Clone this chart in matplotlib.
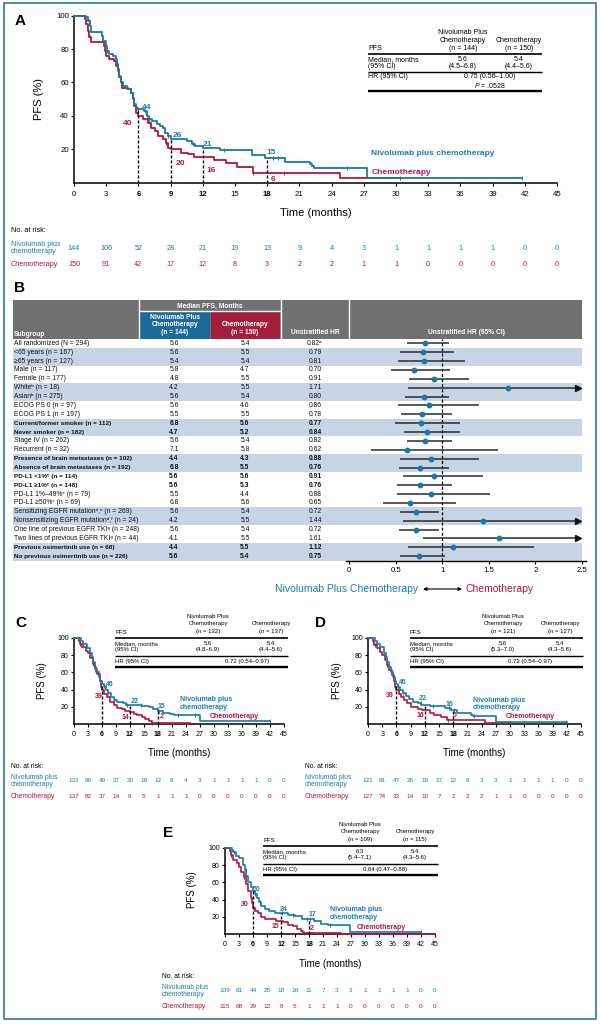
import matplotlib
matplotlib.use('Agg')
import matplotlib.pyplot as plt
import matplotlib.transforms as mtransforms
from matplotlib.patches import Rectangle
from matplotlib import font_manager
import numpy as np

plt.rcParams['font.family'] = ['Liberation Sans', 'DejaVu Sans']
plt.rcParams['mathtext.fontset'] = 'custom'
plt.rcParams['mathtext.rm'] = 'Liberation Sans'
plt.rcParams['mathtext.it'] = 'Liberation Sans:italic'
plt.rcParams['mathtext.bf'] = 'Liberation Sans:bold'

_names = {f.name for f in font_manager.fontManager.ttflist}
NARROW = ['Liberation Sans Narrow', 'Liberation Sans', 'DejaVu Sans'] if 'Liberation Sans Narrow' in _names \
    else ['Liberation Sans', 'DejaVu Sans']
BOLD_ROW_FS = 4.9 if 'Liberation Sans Narrow' in _names else 4.6

# ====================== DATA ======================
months = list(range(0, 46, 3))

# ---- Panel A (all randomized) ----
A_niv_t = [0, 1.1, 1.3, 1.45, 1.6, 2.6, 2.7, 3.0, 3.1, 3.3, 3.6, 3.9, 4.0, 4.1, 4.2, 4.4, 4.6, 4.9, 5.3, 5.5,
           5.6, 5.8, 6.0, 6.5, 6.8, 7.0, 7.3, 7.7, 8.0, 8.3, 8.5, 8.8, 9.0, 10.5, 11.0, 11.3, 12.0, 13.6, 16.6, 17.8,
           19.7, 22.0, 22.2, 22.4, 27.3, 41.7]
A_niv_s = [100, 99, 97, 94, 90, 88, 85, 82, 79, 77, 76, 74, 71, 67, 63, 60, 58, 56, 54, 51,
           47, 45, 44, 43, 40, 38, 37, 35, 34, 33, 30, 28, 26, 25, 23, 22, 21, 19.6, 16.4, 15,
           12.6, 11, 10, 8.6, 2.6, 2.6]
A_ch_t = [0, 1.0, 1.1, 1.3, 1.4, 1.6, 2.8, 2.9, 3.0, 3.3, 3.7, 3.9, 4.1, 4.2, 4.4, 4.5, 5.0, 5.3, 5.5, 5.6,
          5.8, 6.0, 6.4, 6.9, 7.2, 7.5, 7.8, 8.3, 8.6, 8.8, 9.0, 10.0, 10.6, 11.2, 13.0, 14.2, 15.2, 16.7, 24.8, 30.4]
A_ch_s = [100, 98, 95, 91, 87, 84, 82, 79, 76, 74, 73, 70, 68, 63, 60, 57, 56, 54, 50, 46,
          42, 40, 38, 36, 33, 31, 28, 26, 24, 21, 20, 18, 17, 15.6, 13.6, 11.6, 9.6, 5.6, 2.6, 2.6]
A_niv_cens = [1.4, 3.1, 4.0, 4.3, 5.5, 5.9, 6.6, 7.0, 8.8, 11.1, 14.0, 18.5, 19.0, 22.1, 25.4, 41.7]
A_ch_cens = [1.3, 1.5, 4.0, 4.3, 5.5, 6.8, 7.1, 8.6, 16.7, 19.6, 30.4]
A_land_t = [6, 9, 12, 18]
A_niv_land = [44, 26, 21, 15]
A_ch_land = [40, 20, 16, 6]
A_risk_niv = [144, 106, 52, 28, 21, 19, 13, 9, 4, 3, 1, 1, 1, 1, 0, 0]
A_risk_ch = [150, 91, 42, 17, 12, 8, 3, 2, 2, 1, 1, 0, 0, 0, 0, 0]
A_n = [144, 150]
A_median = ['5.6', '5.4']
A_ci = ['(4.5–6.8)', '(4.4–5.6)']
A_hr = '0.75 (0.56–1.00)'
A_p = '.0528'

# ---- Panel C ----
C_niv_t = [0, 1.6, 2.0, 2.7, 3.4, 3.8, 4.1, 4.4, 4.8, 5.3, 5.6, 6.0, 6.4, 6.8, 7.3, 8.0, 8.5, 9.3, 10.5, 11.2,
           14.5, 16.0, 17.0, 18.0, 19.0, 20.5, 21.5, 27.0, 42.0]
C_niv_s = [100, 97, 93, 88, 82, 78, 72, 66, 60, 55, 50, 46, 44, 40, 36, 31, 28, 26, 24, 22,
           21, 20, 17, 15, 13, 12, 11, 3, 3]
C_ch_t = [0, 1.0, 1.3, 1.8, 2.5, 3.0, 3.5, 4.0, 4.5, 5.0, 5.5, 5.8, 6.0, 6.5, 7.0, 7.8, 8.5, 9.3, 10.2, 11.0,
          12.0, 12.8, 13.5, 14.5, 15.3, 16.0, 16.8, 24.8]
C_ch_s = [100, 97, 93, 89, 85, 82, 77, 70, 64, 58, 50, 43, 39, 35, 31, 26, 22, 19, 17, 15,
          14, 12, 10, 8, 6, 4, 1.5, 1.5]
C_niv_cens = [2.0, 4.5, 6.4, 7.3, 8.5, 11.3, 14.3, 17.8, 18.3, 22.3, 26.0, 42.0]
C_ch_cens = [1.3, 4.0, 5.8, 16.8]
C_land_t = [6, 12, 18]
C_niv_land = [46, 22, 15]
C_ch_land = [39, 14, 2]
C_risk_niv = [132, 96, 49, 27, 20, 18, 12, 8, 4, 3, 1, 1, 1, 1, 0, 0]
C_risk_ch = [137, 82, 37, 14, 9, 5, 1, 1, 1, 0, 0, 0, 0, 0, 0, 0]
C_n = [132, 137]
C_median = ['5.6', '5.4']
C_ci = ['(4.8–6.9)', '(4.4–5.6)']
C_hr = '0.72 (0.54–0.97)'

# ---- Panel D ----
D_niv_t = [0, 1.5, 2.0, 2.6, 3.3, 3.7, 4.1, 4.5, 4.9, 5.3, 5.6, 6.0, 6.4, 6.8, 7.3, 8.0, 8.6, 9.5, 10.6, 11.3,
           13.0, 16.3, 17.5, 18.8, 21.8, 22.2, 27.0, 42.0]
D_niv_s = [100, 97, 93, 89, 83, 78, 72, 66, 60, 55, 50, 46, 43, 40, 36, 32, 29, 26, 24, 22,
           21, 19, 16, 13, 11, 9, 2.5, 2.5]
D_ch_t = [0, 1.0, 1.3, 1.8, 2.5, 3.0, 3.5, 4.0, 4.5, 5.0, 5.5, 5.8, 6.0, 6.5, 7.0, 7.5, 8.2, 9.0, 10.5, 11.5,
          13.0, 14.0, 15.5, 16.6, 24.7, 30.3]
D_ch_s = [100, 96, 92, 88, 84, 80, 75, 69, 63, 57, 50, 43, 39, 35, 31, 28, 24, 20, 18, 16,
          13, 11, 8, 5, 1.5, 1.5]
D_niv_cens = [2.0, 4.5, 6.4, 7.3, 11.2, 13.8, 17.2, 18.2, 22.3, 41.8]
D_ch_cens = [1.4, 4.0, 6.3, 17.0]
D_land_t = [6, 12, 18]
D_niv_land = [46, 22, 16]
D_ch_land = [39, 16, 5]
D_risk_niv = [121, 91, 47, 26, 19, 17, 12, 8, 3, 3, 1, 1, 1, 1, 0, 0]
D_risk_ch = [127, 74, 33, 14, 10, 7, 2, 2, 2, 1, 1, 0, 0, 0, 0, 0]
D_n = [121, 127]
D_median = ['5.6', '5.4']
D_ci = ['(5.3–7.0)', '(4.3–5.6)']
D_hr = '0.72 (0.54–0.97)'

# ---- Panel E ----
E_niv_t = [0, 1.5, 1.7, 2.3, 3.0, 3.8, 4.2, 4.6, 5.0, 5.5, 6.0, 6.4, 6.8, 7.3, 7.8, 8.5, 9.5, 10.8, 12.0, 13.5,
           15.0, 16.5, 19.0, 20.5, 22.0, 26.8, 42.0]
E_niv_s = [100, 98, 95, 91, 88, 80, 75, 68, 60, 55, 50, 47, 42, 37, 32, 29, 27, 25, 24, 22,
           21, 17, 15, 12, 11, 2.5, 2.5]
E_ch_t = [0, 1.0, 1.3, 1.8, 2.5, 3.0, 3.5, 4.0, 4.5, 5.0, 5.5, 5.8, 6.0, 6.5, 7.0, 7.8, 8.5, 9.5, 11.0, 12.5,
          13.5, 14.5, 15.5, 16.2, 16.8, 24.8, 45.0]
E_ch_s = [100, 96, 92, 86, 83, 78, 72, 66, 58, 50, 42, 36, 30, 27, 24, 20, 18, 17, 15, 14,
          11, 9, 6, 4, 1.5, 0.5, 0.5]
E_niv_cens = [1.9, 4.5, 6.5, 7.6, 12.2, 14.5, 17.5, 18.3, 22.4, 42.0]
E_ch_cens = [1.3, 4.0, 6.2, 17.0]
E_land_t = [6, 12, 18]
E_niv_land = [50, 24, 17]
E_ch_land = [30, 15, 2]
E_risk_niv = [109, 81, 44, 25, 18, 16, 11, 7, 3, 3, 1, 1, 1, 1, 0, 0]
E_risk_ch = [115, 68, 29, 12, 8, 5, 1, 1, 1, 0, 0, 0, 0, 0, 0, 0]
E_n = [109, 115]
E_median = ['6.3', '5.4']
E_ci = ['(5.4–7.1)', '(4.3–5.6)']
E_hr = '0.64 (0.47–0.88)'

# ---- Panel B (subgroups) ----
sub_labels = [
    "All randomized (N = 294)", "<65 years (n = 167)", "≥65 years (n = 127)", "Male (n = 117)",
    "Female (n = 177)", "Whiteᵇ (n = 18)", "Asianᵇ (n = 275)", "ECOG PS 0 (n = 97)", "ECOG PS 1 (n = 197)",
    "Current/former smoker (n = 112)", "Never smoker (n = 182)", "Stage IV (n = 262)", "Recurrent (n = 32)",
    "Presence of brain metastases (n = 102)", "Absence of brain metastases (n = 192)",
    "PD-L1 <1%ᶜ (n = 114)", "PD-L1 ≥1%ᶜ (n = 148)", "PD-L1 1%–49%ᶜ (n = 79)", "PD-L1 ≥50%ᶜ (n = 69)",
    "Sensitizing EGFR mutationᵈ,ᵉ (n = 269)", "Nonsensitizing EGFR mutationᵈ,ᶠ (n = 24)",
    "One line of previous EGFR TKIᵍ (n = 248)", "Two lines of previous EGFR TKIᵍ (n = 44)",
    "Previous osimertinib use (n = 68)", "No previous osimertinib use (n = 226)"]
sub_bold = [0, 0, 0, 0, 0, 0, 0, 0, 0, 1, 1, 0, 0, 1, 1, 1, 1, 0, 0, 0, 0, 0, 0, 1, 1]
sub_shade = [0, 1, 1, 0, 0, 1, 1, 0, 0, 1, 1, 0, 0, 1, 1, 0, 0, 0, 0, 1, 1, 0, 0, 1, 1]
med_niv = [5.6, 5.6, 5.4, 5.8, 4.8, 4.2, 5.6, 5.6, 5.5, 6.8, 4.7, 5.6, 7.1, 4.4, 6.8, 5.6, 5.6, 5.5, 6.8,
           5.6, 4.2, 5.6, 4.1, 4.4, 5.6]
med_ch = [5.4, 5.5, 5.4, 4.7, 5.5, 5.5, 5.4, 4.6, 5.5, 5.6, 5.2, 5.4, 5.8, 4.3, 5.5, 5.6, 5.3, 4.4, 5.6,
          5.4, 5.5, 5.4, 5.5, 5.5, 5.4]
hr_est = [0.82, 0.79, 0.81, 0.70, 0.91, 1.71, 0.80, 0.86, 0.78, 0.77, 0.84, 0.82, 0.62, 0.88, 0.76, 0.91,
          0.76, 0.88, 0.65, 0.72, 1.44, 0.72, 1.61, 1.12, 0.75]
hr_lo = [0.62, 0.55, 0.53, 0.45, 0.64, 0.63, 0.60, 0.53, 0.56, 0.49, 0.59, 0.62, 0.24, 0.55, 0.54, 0.58,
         0.52, 0.52, 0.36, 0.55, 0.58, 0.54, 0.79, 0.63, 0.55]
hr_hi = [1.07, 1.13, 1.25, 1.08, 1.29, None, 1.07, 1.39, 1.10, 1.19, 1.19, 1.10, 1.60, 1.39, 1.07, 1.44,
         1.11, 1.51, 1.15, 0.97, None, 0.97, None, 1.98, 1.03]
forest_ticks = [0, 0.5, 1, 1.5, 2, 2.5]
forest_ticklabels = ['0', '0.5', '1', '1.5', '2', '2.5']

# ====================== STYLE ======================
BLUE = '#1878a9'
RED = '#b1183f'
NIV_TXT = '#1a7db0'
HDR_GRAY = '#707070'
HDR_BLUE = '#1c6a98'
HDR_RED = '#a41f3b'
SHADE = '#c6d4e6'
FRAME = '#4a8cbf'

W, H = 600, 1025
fig = plt.figure(figsize=(W / 100, H / 100), dpi=100)
cv = fig.add_axes([0, 0, 1, 1])
cv.set_xlim(0, W)
cv.set_ylim(H, 0)
cv.axis('off')
cv.set_zorder(0)


def px_axes(x0, x1, yt, yb):
    a = fig.add_axes([x0 / W, 1 - yb / H, (x1 - x0) / W, (yb - yt) / H])
    a.set_zorder(2)
    a.patch.set_visible(False)
    return a


def step_at(t, s, x):
    i = np.searchsorted(np.asarray(t), x, side='right') - 1
    return float(np.asarray(s)[i])


def km(box, niv, ch, niv_c, ch_c, land, niv_land, ch_land, niv_pos, ch_pos,
       name_pos, chemo_pos, two_lines, fs_tick, fs_num, fs_name, lw, xpad):
    x0, x1, yt, yb = box
    ax = px_axes(x0, x1, yt, yb)
    ax.set_xlim(0, 45)
    ax.set_ylim(0, 100)
    for sp in ['top', 'right']:
        ax.spines[sp].set_visible(False)
    for sp in ['left', 'bottom']:
        ax.spines[sp].set_linewidth(1.1)
    ax.step(ch[0], ch[1], where='post', color=RED, lw=lw, clip_on=False, zorder=3)
    ax.step(niv[0], niv[1], where='post', color=BLUE, lw=lw, clip_on=False, zorder=4)
    ax.plot(ch_c, [step_at(ch[0], ch[1], c) for c in ch_c], ls='none', marker='|',
            ms=3.2, mew=0.7, color=RED, zorder=3, clip_on=False)
    ax.plot(niv_c, [step_at(niv[0], niv[1], c) for c in niv_c], ls='none', marker='|',
            ms=3.2, mew=0.7, color=BLUE, zorder=4, clip_on=False)
    for t in land:
        top = max(step_at(niv[0], niv[1], t), step_at(ch[0], ch[1], t))
        ax.plot([t, t], [0, top], color='k', lw=1.0, ls=(0, (2.2, 1.4)), zorder=5)
    for (x, y), v in zip(niv_pos, niv_land):
        ax.text(x, y, str(v), color=NIV_TXT, fontsize=fs_num, fontweight='bold', ha='center', va='center')
    for (x, y), v in zip(ch_pos, ch_land):
        ax.text(x, y, str(v), color=RED, fontsize=fs_num, fontweight='bold', ha='center', va='center')
    name = 'Nivolumab plus\nchemotherapy' if two_lines else 'Nivolumab plus chemotherapy'
    ax.text(name_pos[0], name_pos[1], name, color=NIV_TXT, fontsize=fs_name, fontweight='bold',
            ha='left', va='center', linespacing=1.1)
    ax.text(chemo_pos[0], chemo_pos[1], 'Chemotherapy', color=RED, fontsize=fs_name, fontweight='bold',
            ha='left', va='center')
    ax.set_xticks(months)
    ax.set_xticklabels([str(m) for m in months])
    ax.set_yticks([20, 40, 60, 80, 100])
    ax.tick_params(labelsize=fs_tick, length=2.5, width=0.8)
    ax.tick_params(axis='x', pad=xpad)
    ax.tick_params(axis='y', pad=1.2)
    for lab, m in zip(ax.get_xticklabels(), months):
        if m in land:
            lab.set_fontweight('bold')
    return ax


def risk(ax, x_lab, y_title, y_niv, y_ch, rn, rc, fs, fs_lab):
    tr = mtransforms.blended_transform_factory(ax.transData, cv.transData)
    cv.text(x_lab, y_title, 'No. at risk:', fontsize=fs_lab, ha='left', va='center')
    cv.text(x_lab, y_niv, 'Nivolumab plus\nchemotherapy', fontsize=fs_lab, color=NIV_TXT,
            ha='left', va='center', linespacing=1.0)
    cv.text(x_lab, y_ch, 'Chemotherapy', fontsize=fs_lab, color=RED, ha='left', va='center')
    for m, a, b in zip(months, rn, rc):
        cv.text(m, y_niv, str(a), transform=tr, fontsize=fs, color=NIV_TXT, ha='center', va='center')
        cv.text(m, y_ch, str(b), transform=tr, fontsize=fs, color=RED, ha='center', va='center')


def km_table(xl, xr, c1, c2, chr_, y0, n, med, ci, hr_txt, p_txt, fs, offs):
    h1, h2, h3, m1, m2, mid, hry, py, bot = offs
    kw = dict(fontsize=fs, va='center')
    cv.text(xl, y0 + h3, 'PFS', ha='left', **kw)
    for yy, s in zip((h1, h2, h3), ('Nivolumab Plus', 'Chemotherapy', f'(n = {n[0]})')):
        cv.text(c1, y0 + yy, s, ha='center', **kw)
    for yy, s in zip((h2, h3), ('Chemotherapy', f'(n = {n[1]})')):
        cv.text(c2, y0 + yy, s, ha='center', **kw)
    cv.plot([xl, xr], [y0, y0], color='k', lw=1.2, solid_capstyle='butt')
    cv.text(xl, y0 + m1, 'Median, months', ha='left', **kw)
    cv.text(xl, y0 + m2, '(95% CI)', ha='left', **kw)
    for cx, a, b in ((c1, med[0], ci[0]), (c2, med[1], ci[1])):
        cv.text(cx, y0 + m1, a, ha='center', **kw)
        cv.text(cx, y0 + m2, b, ha='center', **kw)
    cv.plot([xl, xr], [y0 + mid] * 2, color='k', lw=1.0, solid_capstyle='butt')
    cv.text(xl, y0 + hry, 'HR (95% CI)', ha='left', **kw)
    cv.text(chr_, y0 + hry, hr_txt, ha='center', **kw)
    if p_txt:
        cv.text(chr_, y0 + py, '$P$ = ' + p_txt, ha='center', **kw)
    cv.plot([xl, xr], [y0 + bot] * 2, color='k', lw=1.7, solid_capstyle='butt')


# ---------------- frame ----------------
cv.add_patch(Rectangle((4, 3), 592, 1016, fill=False, edgecolor=FRAME, lw=1.4, zorder=10))

# ---------------- panel A ----------------
axA = km((74, 557, 15.7, 182.7), (A_niv_t, A_niv_s), (A_ch_t, A_ch_s), A_niv_cens, A_ch_cens,
         A_land_t, A_niv_land, A_ch_land,
         [(6.8, 45), (9.6, 28.5), (12.4, 23), (18.4, 18)],
         [(5.0, 35.5), (9.9, 11.2), (12.8, 7.6), (18.5, 2)],
         (27.7, 17.2), (27.7, 6.4), False, 5.6, 6.0, 6.0, 1.3, 3.6)
cv.text(15, 21, 'A', fontsize=11, fontweight='bold', ha='left', va='center')
cv.text(39, 99, 'PFS (%)', fontsize=8, rotation=90, ha='center', va='center')
cv.text(315.5, 213, 'Time (months)', fontsize=8, ha='center', va='center')
risk(axA, 11, 230, 248, 265, A_risk_niv, A_risk_ch, 5.2, 5.2)
km_table(368, 542, 463, 519, 490, 54, A_n, A_median, A_ci, A_hr, A_p, 5.0,
         (-21, -13, -5, 5.5, 12, 18, 23, 31.5, 37))

# ---------------- panel B ----------------
cv.text(14, 288, 'B', fontsize=11, fontweight='bold', ha='left', va='center')
ROW0, PITCH = 338.9, 8.87
cv.add_patch(Rectangle((13, 300), 582 - 13, ROW0 - 300, facecolor=HDR_GRAY, edgecolor='none'))
cv.add_patch(Rectangle((140, 312), 69.5, ROW0 - 312, facecolor=HDR_BLUE, edgecolor='none'))
cv.add_patch(Rectangle((210.5, 312), 69.5, ROW0 - 312, facecolor=HDR_RED, edgecolor='none'))
for xs in (139.3, 280.7, 349.3):
    cv.plot([xs, xs], [300, ROW0], color='white', lw=1.0)
cv.plot([139.3, 280.7], [311.3, 311.3], color='white', lw=1.0)
hk = dict(color='white', fontsize=4.8, fontweight='bold', ha='center', va='center')
cv.text(14, 334, 'Subgroup', **{**hk, 'ha': 'left'})
cv.text(210, 306, 'Median PFS, Months', **hk)
cv.text(175, 325, 'Nivolumab Plus\nChemotherapy\n(n = 144)', linespacing=1.15, **hk)
cv.text(245, 328.5, 'Chemotherapy\n(n = 150)', linespacing=1.15, **hk)
cv.text(315, 333, 'Unstratified HR', **hk)
cv.text(466, 333, 'Unstratified HR (95% CI)', **hk)

for i in range(len(sub_labels)):
    ytop = ROW0 + i * PITCH
    yc = ytop + PITCH / 2
    if sub_shade[i]:
        cv.add_patch(Rectangle((13, ytop), 582 - 13, PITCH, facecolor=SHADE, edgecolor='none'))
    if sub_bold[i]:
        rk = dict(fontsize=BOLD_ROW_FS, fontweight='bold', va='center', color='#111111', family=NARROW)
        nk = dict(fontsize=4.9, fontweight='bold', va='center', color='#111111')
    else:
        rk = dict(fontsize=4.9, fontweight='normal', va='center', color='#111111')
        nk = rk
    cv.text(14, yc, sub_labels[i], ha='left', **rk)
    cv.text(174, yc, f'{med_niv[i]:.1f}', ha='center', **nk)
    cv.text(245, yc, f'{med_ch[i]:.1f}', ha='center', **nk)
    cv.text(315, yc, f'{hr_est[i]:.2f}' + ('ᵃ' if i == 0 else ''), ha='center', **nk)

axF = px_axes(346, 586, ROW0, ROW0 + 25 * PITCH)
axF.set_xlim(-0.032, 2.543)
axF.set_ylim(24.5, -0.5)
for sp in ['top', 'right', 'left']:
    axF.spines[sp].set_visible(False)
axF.spines['bottom'].set_linewidth(1.0)
rows = np.arange(len(hr_est))
for i in rows:
    if hr_hi[i] is None:
        axF.plot([hr_lo[i], 2.45], [i, i], color='#2b2b2b', lw=1.1, solid_capstyle='butt')
        axF.plot([2.455], [i], marker='>', ms=3.8, color='#111111', ls='none', clip_on=False)
    else:
        axF.plot([hr_lo[i], hr_hi[i]], [i, i], color='#2b2b2b', lw=1.1, solid_capstyle='butt')
axF.plot(hr_est, rows, ls='none', marker='o', ms=3.2, color=BLUE, zorder=5)
axF.axvline(1, color='k', lw=0.9, ls=(0, (2.5, 1.6)), zorder=1)
axF.set_yticks([])
axF.set_xticks(forest_ticks)
axF.set_xticklabels(forest_ticklabels)
axF.tick_params(axis='x', labelsize=5.6, length=2.5, width=0.8, pad=2.0)

cv.text(418, 589, 'Nivolumab Plus Chemotherapy', ha='right', va='center', color=NIV_TXT, fontsize=7.5)
cv.text(466, 589, 'Chemotherapy', ha='left', va='center', color=RED, fontsize=7.5)
cv.annotate('', xy=(462, 589), xytext=(423, 589),
            arrowprops=dict(arrowstyle='<|-|>', color='k', lw=0.8, mutation_scale=5, shrinkA=0, shrinkB=0))

# ---------------- panels C, D, E ----------------
small_offs = (-21, -14, -6, 5.5, 12, 18, 23.5, 0, 29)

axC = km((74, 284, 638, 724), (C_niv_t, C_niv_s), (C_ch_t, C_ch_s), C_niv_cens, C_ch_cens,
         C_land_t, C_niv_land, C_ch_land,
         [(7.7, 46.5), (13.1, 26), (18.8, 20.5)],
         [(5.2, 31.4), (11.1, 7.8), (18.9, 8.9)],
         (22.7, 23.6), (29.1, 8.9), True, 5.0, 5.0, 5.0, 1.2, 2.2)
cv.text(15, 623, 'C', fontsize=11, fontweight='bold', ha='left', va='center')
cv.text(42, 681, 'PFS (%)', fontsize=7, rotation=90, ha='center', va='center')
cv.text(179, 753, 'Time (months)', fontsize=7, ha='center', va='center')
risk(axC, 11, 767, 781, 796, C_risk_niv, C_risk_ch, 4.6, 4.9)
km_table(115, 288, 208, 271, 247, 638, C_n, C_median, C_ci, C_hr, None, 4.3, small_offs)

axD = km((368, 581, 638, 724), (D_niv_t, D_niv_s), (D_ch_t, D_ch_s), D_niv_cens, D_ch_cens,
         D_land_t, D_niv_land, D_ch_land,
         [(7.4, 48), (11.5, 30), (17.1, 23)],
         [(4.6, 33), (11.1, 9.7), (18.4, 9.7)],
         (22.2, 23.5), (29.2, 8.6), True, 5.0, 5.0, 5.0, 1.2, 2.2)
cv.text(315, 623, 'D', fontsize=11, fontweight='bold', ha='left', va='center')
cv.text(337, 681, 'PFS (%)', fontsize=7, rotation=90, ha='center', va='center')
cv.text(474.5, 753, 'Time (months)', fontsize=7, ha='center', va='center')
risk(axD, 305, 767, 781, 796, D_risk_niv, D_risk_ch, 4.6, 4.9)
km_table(410, 583, 503, 560, 530, 638, D_n, D_median, D_ci, D_hr, None, 4.3, small_offs)

axE = km((225, 435, 848, 934), (E_niv_t, E_niv_s), (E_ch_t, E_ch_s), E_niv_cens, E_ch_cens,
         E_land_t, E_niv_land, E_ch_land,
         [(6.8, 52), (12.6, 29), (18.8, 22.5)],
         [(4.3, 34), (10.9, 9), (18.6, 6.2)],
         (22.5, 23.6), (28.2, 8.1), True, 5.0, 5.0, 5.0, 1.2, 2.2)
cv.text(163, 833, 'E', fontsize=11, fontweight='bold', ha='left', va='center')
cv.text(192, 890, 'PFS (%)', fontsize=7, rotation=90, ha='center', va='center')
cv.text(330, 964, 'Time (months)', fontsize=7, ha='center', va='center')
risk(axE, 162, 977, 991, 1006, E_risk_niv, E_risk_ch, 4.6, 4.9)
km_table(263, 438, 360, 415, 385, 846, E_n, E_median, E_ci, E_hr, None, 4.3, small_offs)

fig.savefig('out.png', dpi=100)
